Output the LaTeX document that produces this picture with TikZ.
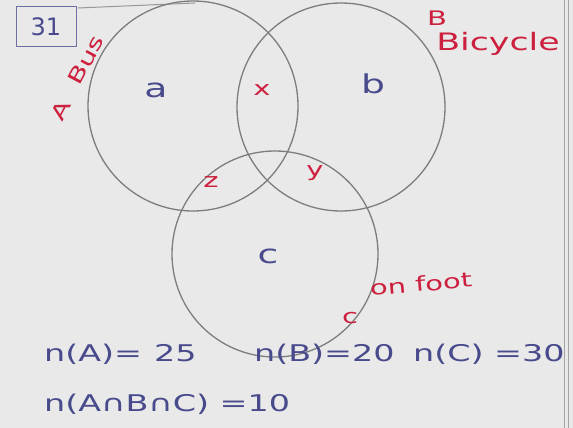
\documentclass[tikz,border=0pt]{standalone}
\usepackage{fontspec}
\setmainfont{DejaVu Sans}
\newfontfamily\hand[FakeStretch=1.45]{DejaVu Sans}
\definecolor{giay}{RGB}{232,233,232}
\definecolor{mucxanh}{RGB}{72,74,140}
\definecolor{mucdo}{RGB}{205,32,62}
\definecolor{chi}{RGB}{125,125,125}
\begin{document}
\begin{tikzpicture}[
			x=1pt, y=-1pt,
			line join=round,
			line cap=round,
			vong/.style={draw=chi, line width=1.3pt},
			chuxanh/.style={text=mucxanh, font=\hand\fontsize{26}{28}\selectfont},
			chudo/.style={text=mucdo, font=\hand\fontsize{20}{22}\selectfont},
			dong/.style={text=mucxanh, anchor=west, inner sep=0pt, font=\hand\fontsize{23}{25}\selectfont}
			]
			\fill[giay] (0,0) rectangle (573,428);
			\useasboundingbox (0,0) rectangle (573,428);
			% khung giay
			\draw[chi!70, line width=0.8pt] (564,0) -- (564,428);
			\draw[chi!70, line width=0.8pt] (568,0) -- (568,428);
			\draw[chi!80, line width=1pt] (78,8) -- (195,3);
			% so bai
			\node[draw=mucxanh!80, line width=1pt, minimum width=60pt, minimum height=40pt,
				text=mucxanh, font=\fontsize{24}{26}\selectfont] (bai) at (46,27) {31};
			% ba tap hop
			\draw[vong] (193,106) circle[radius=105];
			\draw[vong] (341,107) circle[radius=104];
			\draw[vong] (275,254) circle[radius=103];
			% ten tap hop
			\node[chudo, rotate=62, inner sep=0pt] (tenA) at (61,110) {A};
			\node[chudo, rotate=62, inner sep=0pt] (xeA) at (86,60) {Bus};
			\node[chudo] (tenB) at (437,18) {B};
			\node[chudo, font=\hand\fontsize{24}{26}\selectfont] (xeB) at (498,44) {Bicycle};
			\node[chudo, rotate=5, inner sep=1pt] (bo) at (421,284) {on foot};
			\node[chudo] (tenC) at (350,318) {c};
			% cac mien
			\node[chuxanh] (mienA) at (156,90) {a};
			\node[chuxanh] (mienB) at (373,84) {b};
			\node[chuxanh] (mienC) at (268,256) {c};
			\node[chudo] (mienX) at (262,90) {x};
			\node[chudo] (mienZ) at (211,182) {z};
			\node[chudo] (mienY) at (315,173) {y};
			% du kien
			\node[dong] (nA) at (44,354) {n(A)=\hspace{12pt}25};
			\node[dong] (nB) at (254,354) {n(B)=20};
			\node[dong] (nC) at (413,354) {n(C) =30};
			\node[dong] (nABC) at (44,404) {n(A∩B∩C) =10};
		\end{tikzpicture}
\end{document}
